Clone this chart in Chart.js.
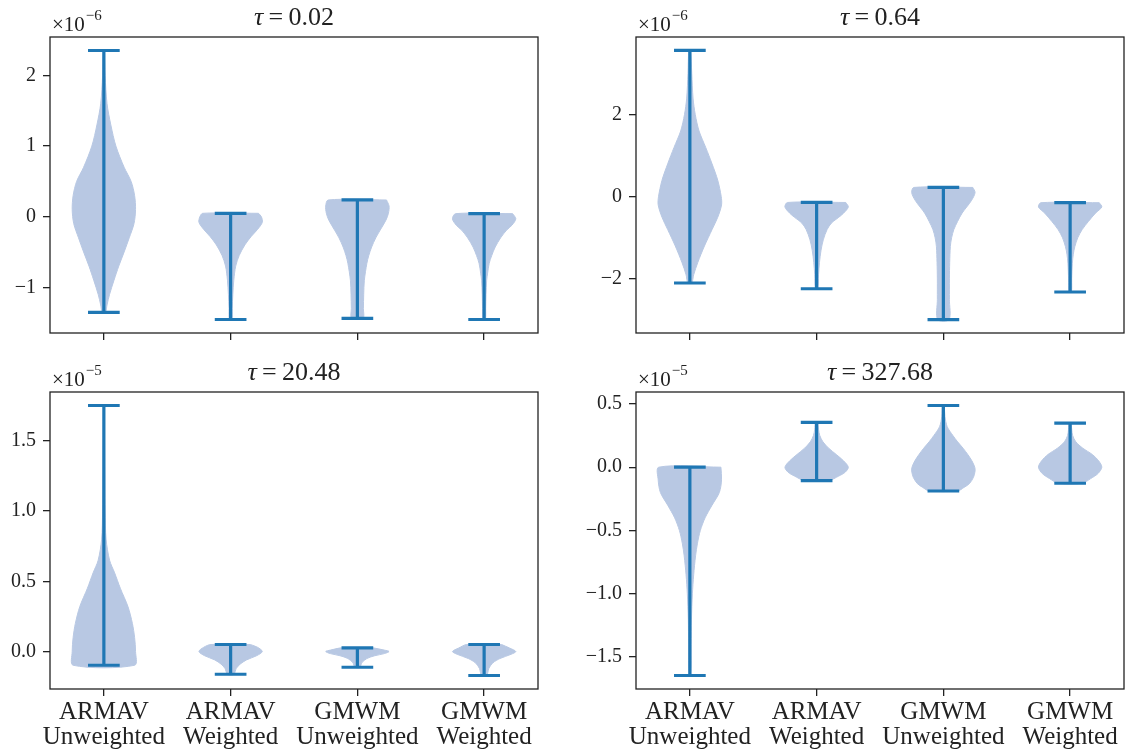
<!DOCTYPE html>
<html>
<head>
<meta charset="utf-8">
<script src="https://cdn.jsdelivr.net/npm/chart.js@4.4.1/dist/chart.umd.min.js"></script>
<style>
  html, body { margin: 0; padding: 0; background: #fff; }
  #wrap { position: relative; width: 1128px; height: 756px; }
  #wrap canvas { position: absolute; left: 0; top: 0; }
</style>
</head>
<body>
<div id="wrap">
  <canvas id="c1" width="1128" height="756"></canvas>
  <canvas id="c2" width="1128" height="756"></canvas>
  <canvas id="c3" width="1128" height="756"></canvas>
  <canvas id="c4" width="1128" height="756"></canvas>
</div>
<script>
const categories = [['ARMAV', 'Unweighted'], ['ARMAV', 'Weighted'], ['GMWM', 'Unweighted'], ['GMWM', 'Weighted']];
const positions = [1, 2, 3, 4];

// tau = 0.02 (values x 1e-6)
const tau002Max = [2.355, 0.048, 0.237, 0.043];
const tau002Min = [-1.356, -1.457, -1.44, -1.457];
const tau002Ticks = [-1, 0, 1, 2];
// each violin: [value, relative width]
const tau002Density = [
  [[2.355, 0.02], [2.0, 0.04], [1.6, 0.10], [1.3, 0.22], [1.0, 0.38], [0.7, 0.64], [0.5, 0.86], [0.3, 0.97], [0.1, 1.0], [-0.1, 0.95], [-0.3, 0.80], [-0.5, 0.64], [-0.7, 0.47], [-0.9, 0.32], [-1.1, 0.18], [-1.25, 0.10], [-1.356, 0.05]],
  [[0.048, 0.88], [0.0, 0.97], [-0.08, 1.0], [-0.18, 0.85], [-0.28, 0.65], [-0.4, 0.45], [-0.55, 0.27], [-0.7, 0.16], [-0.9, 0.10], [-1.1, 0.07], [-1.3, 0.05], [-1.457, 0.04]],
  [[0.237, 0.92], [0.15, 1.0], [0.05, 0.98], [-0.05, 0.9], [-0.19, 0.72], [-0.3, 0.58], [-0.43, 0.45], [-0.55, 0.36], [-0.66, 0.30], [-0.9, 0.22], [-1.1, 0.20], [-1.3, 0.19], [-1.44, 0.18]],
  [[0.043, 0.9], [-0.03, 1.0], [-0.12, 0.88], [-0.19, 0.71], [-0.3, 0.52], [-0.43, 0.35], [-0.55, 0.24], [-0.66, 0.16], [-0.8, 0.11], [-0.9, 0.08], [-1.1, 0.06], [-1.3, 0.05], [-1.457, 0.04]]
];

// tau = 0.64 (values x 1e-6)
const tau064Max = [3.56, -0.14, 0.226, -0.146];
const tau064Min = [-2.10, -2.24, -2.99, -2.32];
const tau064Ticks = [-2, 0, 2];
const tau064Density = [
  [[3.56, 0.03], [3.0, 0.06], [2.4, 0.10], [2.0, 0.17], [1.6, 0.29], [1.2, 0.50], [0.8, 0.70], [0.4, 0.88], [0.0, 0.99], [-0.2, 1.0], [-0.5, 0.88], [-0.8, 0.70], [-1.2, 0.46], [-1.6, 0.25], [-1.9, 0.12], [-2.10, 0.06]],
  [[-0.14, 0.92], [-0.25, 1.0], [-0.4, 0.85], [-0.5, 0.70], [-0.64, 0.47], [-0.8, 0.33], [-1.05, 0.21], [-1.3, 0.14], [-1.6, 0.09], [-1.9, 0.06], [-2.24, 0.04]],
  [[0.226, 0.93], [0.1, 1.0], [-0.1, 0.88], [-0.4, 0.59], [-0.6, 0.45], [-0.8, 0.33], [-1.0, 0.26], [-1.21, 0.22], [-1.6, 0.20], [-2.0, 0.19], [-2.5, 0.19], [-2.99, 0.18]],
  [[-0.146, 0.92], [-0.25, 1.0], [-0.4, 0.80], [-0.6, 0.58], [-0.8, 0.38], [-1.0, 0.24], [-1.21, 0.15], [-1.4, 0.10], [-1.62, 0.07], [-2.0, 0.05], [-2.32, 0.04]]
];

// tau = 20.48 (values x 1e-5)
const tau2048Max = [1.752, 0.05, 0.026, 0.05];
const tau2048Min = [-0.098, -0.162, -0.112, -0.171];
const tau2048Ticks = [0, 0.5, 1.0, 1.5];
const tau2048Density = [
  [[1.752, 0.01], [1.5, 0.02], [1.2, 0.03], [1.0, 0.04], [0.8, 0.07], [0.65, 0.18], [0.56, 0.34], [0.45, 0.52], [0.32, 0.76], [0.2, 0.90], [0.1, 0.97], [0.0, 1.0], [-0.098, 0.97]],
  [[0.05, 0.62], [0.03, 0.85], [0.0, 1.0], [-0.03, 0.82], [-0.06, 0.5], [-0.09, 0.3], [-0.12, 0.18], [-0.162, 0.1]],
  [[0.026, 0.5], [0.01, 0.85], [0.0, 1.0], [-0.015, 0.85], [-0.03, 0.55], [-0.05, 0.3], [-0.08, 0.14], [-0.112, 0.08]],
  [[0.05, 0.55], [0.025, 0.8], [0.0, 1.0], [-0.02, 0.85], [-0.05, 0.5], [-0.08, 0.28], [-0.12, 0.15], [-0.171, 0.08]]
];

// tau = 327.68 (values x 1e-5)
const tau32768Max = [0.0, 0.353, 0.487, 0.348];
const tau32768Min = [-1.645, -0.106, -0.188, -0.127];
const tau32768Ticks = [-1.5, -1.0, -0.5, 0.0, 0.5];
const tau32768Density = [
  [[0.0, 0.98], [-0.1, 1.0], [-0.2, 0.93], [-0.3, 0.7], [-0.4, 0.48], [-0.5, 0.33], [-0.6, 0.24], [-0.7, 0.18], [-0.85, 0.12], [-1.0, 0.08], [-1.2, 0.05], [-1.4, 0.04], [-1.645, 0.03]],
  [[0.353, 0.04], [0.3, 0.06], [0.25, 0.1], [0.2, 0.2], [0.15, 0.38], [0.1, 0.62], [0.05, 0.85], [0.0, 1.0], [-0.04, 0.9], [-0.07, 0.7], [-0.106, 0.38]],
  [[0.487, 0.03], [0.4, 0.05], [0.32, 0.12], [0.25, 0.3], [0.2, 0.45], [0.15, 0.62], [0.1, 0.77], [0.05, 0.9], [0.0, 0.99], [-0.03, 1.0], [-0.08, 0.95], [-0.13, 0.82], [-0.16, 0.65], [-0.188, 0.45]],
  [[0.348, 0.03], [0.3, 0.05], [0.25, 0.08], [0.2, 0.18], [0.15, 0.4], [0.1, 0.7], [0.05, 0.9], [0.0, 1.0], [-0.05, 0.88], [-0.09, 0.65], [-0.127, 0.38]]
];

const BLUE = '#1f77b4';
const BODY = '#b8c8e3';
const INK = '#222222';
const SERIF = '"Liberation Serif", "DejaVu Serif", serif';
const HALF_WIDTH = 0.25;   // violin half width in x units
const CAP_HALF = 0.125;    // min/max cap half length

function fmtTick(v, decimals) {
  const s = Math.abs(v).toFixed(decimals);
  return v < 0 ? '\u2212' + s : s;
}

function violinOutline(pos, profile) {
  const right = profile.map(([v, w]) => ({ x: pos + w * HALF_WIDTH, y: v }));
  const left = profile.slice().reverse().map(([v, w]) => ({ x: pos - w * HALF_WIDTH, y: v }));
  return right.concat(left, [right[0]]);
}

function whiskerPoints(pos, lo, hi) {
  const gap = { x: pos, y: null };
  return [
    { x: pos - CAP_HALF, y: hi }, { x: pos + CAP_HALF, y: hi }, gap,
    { x: pos, y: hi }, { x: pos, y: lo }, gap,
    { x: pos - CAP_HALF, y: lo }, { x: pos + CAP_HALF, y: lo }
  ];
}

const panelText = {
  id: 'panelText',
  afterDraw(chart, args, opts) {
    const { ctx, chartArea: a } = chart;
    ctx.save();
    ctx.fillStyle = INK;
    ctx.textAlign = 'left';
    ctx.textBaseline = 'alphabetic';
    // title: italic tau, then the lag value
    const tauFont = 'italic 26px ' + SERIF;
    const restFont = '26px ' + SERIF;
    const rest = '\u2009=\u2009' + opts.tau;
    ctx.font = tauFont;
    const wTau = ctx.measureText('\u03c4').width;
    ctx.font = restFont;
    const wRest = ctx.measureText(rest).width;
    let x = (a.left + a.right) / 2 - (wTau + wRest) / 2;
    const y = a.top - 12;
    ctx.font = tauFont;
    ctx.fillText('\u03c4', x, y);
    ctx.font = restFont;
    ctx.fillText(rest, x + wTau, y);
    // axis scale factor
    ctx.font = '21px ' + SERIF;
    ctx.fillText('\u00d710', a.left + 2, a.top - 6);
    const w10 = ctx.measureText('\u00d710').width;
    ctx.font = '15px ' + SERIF;
    ctx.fillText('\u2212' + opts.exp, a.left + 3 + w10, a.top - 17);
    ctx.restore();
  },
  afterDatasetsDraw(chart) {
    const { ctx, chartArea: a } = chart;
    ctx.save();
    ctx.strokeStyle = INK;
    ctx.lineWidth = 1.3;
    ctx.strokeRect(a.left, a.top, a.right - a.left, a.bottom - a.top);
    ctx.restore();
  }
};

function makePanel(id, cfg) {
  const datasets = [];
  positions.forEach((pos, i) => {
    datasets.push({
      data: violinOutline(pos, cfg.density[i]),
      showLine: true,
      fill: 'shape',
      backgroundColor: BODY,
      borderColor: BODY,
      borderWidth: 1,
      pointRadius: 0,
      tension: 0.3,
      order: 2
    });
  });
  positions.forEach((pos, i) => {
    datasets.push({
      data: whiskerPoints(pos, cfg.min[i], cfg.max[i]),
      showLine: true,
      spanGaps: false,
      fill: false,
      borderColor: BLUE,
      borderWidth: 3.2,
      borderCapStyle: 'butt',
      pointRadius: 0,
      order: 1
    });
  });

  new Chart(document.getElementById(id), {
    type: 'scatter',
    data: { datasets },
    options: {
      responsive: false,
      animation: false,
      events: [],
      layout: { padding: cfg.padding },
      plugins: {
        legend: { display: false },
        tooltip: { enabled: false },
        panelText: { tau: cfg.tau, exp: cfg.exp }
      },
      scales: {
        x: {
          type: 'linear',
          min: 0.575,
          max: 4.425,
          afterBuildTicks: s => { s.ticks = positions.map(v => ({ value: v })); },
          afterFit: s => { s.height = cfg.xHeight; },
          border: { display: false },
          grid: { drawOnChartArea: false, drawTicks: true, tickLength: 7, color: INK, lineWidth: 1.3 },
          ticks: {
            autoSkip: false,
            maxRotation: 0,
            padding: 4,
            color: INK,
            font: { family: SERIF, size: 25, lineHeight: 1.0 },
            callback: (v, i) => cfg.xLabels ? categories[i] : ''
          }
        },
        y: {
          type: 'linear',
          min: cfg.yMin,
          max: cfg.yMax,
          afterBuildTicks: s => { s.ticks = cfg.ticks.map(v => ({ value: v })); },
          afterFit: s => { s.width = 50; },
          border: { display: false },
          grid: { drawOnChartArea: false, drawTicks: true, tickLength: 7, color: INK, lineWidth: 1.3 },
          ticks: {
            padding: 7,
            color: INK,
            font: { family: SERIF, size: 20 },
            callback: v => fmtTick(v, cfg.decimals)
          }
        }
      }
    },
    plugins: [panelText]
  });
}

makePanel('c1', {
  tau: '0.02', exp: '6', density: tau002Density, min: tau002Min, max: tau002Max,
  ticks: tau002Ticks, decimals: 0, yMin: -1.648, yMax: 2.546,
  xLabels: false, xHeight: 10, padding: { left: 0, right: 590, top: 37, bottom: 413 }
});
makePanel('c2', {
  tau: '0.64', exp: '6', density: tau064Density, min: tau064Min, max: tau064Max,
  ticks: tau064Ticks, decimals: 0, yMin: -3.3175, yMax: 3.8875,
  xLabels: false, xHeight: 10, padding: { left: 586, right: 4, top: 37, bottom: 413 }
});
makePanel('c3', {
  tau: '20.48', exp: '5', density: tau2048Density, min: tau2048Min, max: tau2048Max,
  ticks: tau2048Ticks, decimals: 1, yMin: -0.267, yMax: 1.848,
  xLabels: true, xHeight: 60, padding: { left: 0, right: 590, top: 392, bottom: 7 }
});
makePanel('c4', {
  tau: '327.68', exp: '5', density: tau32768Density, min: tau32768Min, max: tau32768Max,
  ticks: tau32768Ticks, decimals: 1, yMin: -1.7516, yMax: 0.5936,
  xLabels: true, xHeight: 60, padding: { left: 586, right: 4, top: 392, bottom: 7 }
});
</script>
</body>
</html>
